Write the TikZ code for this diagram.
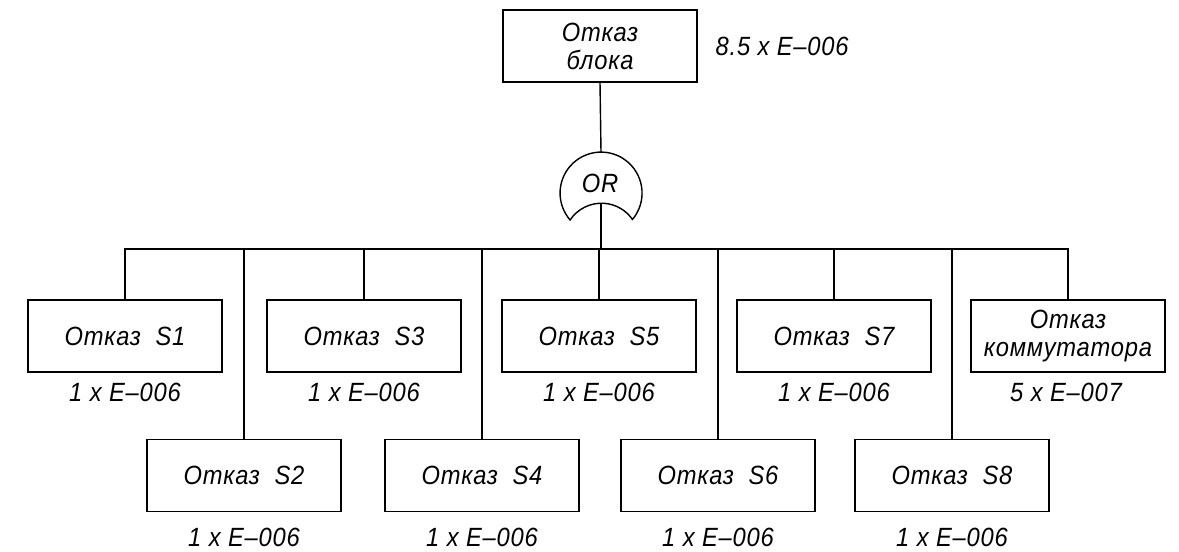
\documentclass[tikz,border=0pt]{standalone}
\usepackage{fontspec}
\setmainfont{Liberation Sans}[FakeStretch=0.9, LetterSpace=3]
\usepackage{tikz}

\tikzset{
  event/.style={draw, minimum width=3.88cm, minimum height=1.44cm, inner sep=0pt,
    align=center, font=\fontsize{15}{16}\selectfont\itshape},
  rate/.style={inner sep=0pt, font=\fontsize{15}{16}\selectfont\itshape},
}

\begin{document}
\begin{tikzpicture}[line width=0.8pt, x=0.02cm, y=0.02cm]
        \useasboundingbox (0,0) rectangle (1179,551);

        \newcommand{\failnode}[5]{
            \node[event] (#1) at (#2, #3) {Отказ\ \ #4};
            \node[rate] (#1-r) at (#2, #5) {1 x E--006};
        }

        \node[event] (top) at (600, 505) {Отказ\\блока};
        \node[rate, anchor=west] (top-r) at (715, 505) {8.5 x E--006};

        % OR gate
        \node[rate] (or) at (600, 368) {OR};
        \coordinate (gtop) at (601, 399);
        \coordinate (gout) at (601, 348);
        \coordinate (bus) at (601, 302);
        \draw (632, 331) arc (-41:221:41) arc (146.3:33.7:37.7);

        \failnode{s1}{125}{215}{S1}{159}
        \failnode{s2}{244}{75.5}{S2}{14}
        \failnode{s3}{364}{215}{S3}{159}
        \failnode{s4}{482}{75.5}{S4}{14}
        \failnode{s5}{599}{215}{S5}{159}
        \failnode{s6}{718}{75.5}{S6}{14}
        \failnode{s7}{834}{215}{S7}{159}
        \failnode{s8}{952}{75.5}{S8}{14}
        \node[event] (sw) at (1068, 215) {Отказ\\коммутатора};
        \node[rate] (sw-r) at (1066, 159) {5 x E--007};

        \draw (top.south) -- (gtop);
        \draw (gout) -- (bus);
        \draw (s1.north) |- (bus) -| (sw.north);
        \foreach \n in {s2, s3, s4, s5, s6, s7, s8}
            \draw (\n.north) -- (\n.north |- bus);
    \end{tikzpicture}
\end{document}
